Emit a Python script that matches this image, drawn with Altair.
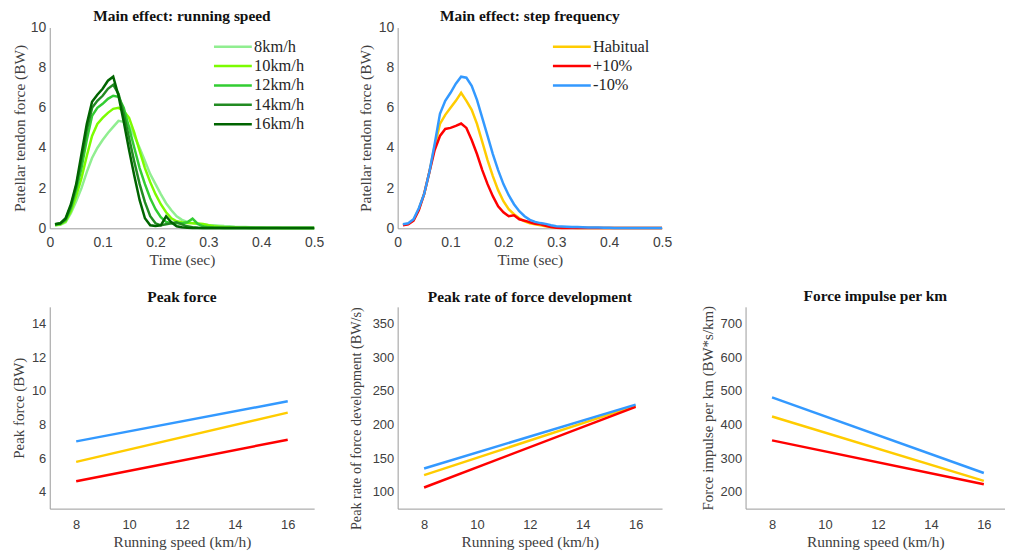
import altair as alt
import pandas as pd

# ---------------- data ----------------
time_s = [0.01, 0.02, 0.03, 0.04, 0.05, 0.06, 0.07, 0.08, 0.09, 0.10,
          0.11, 0.12, 0.13, 0.14, 0.15, 0.16, 0.17, 0.18, 0.19, 0.20,
          0.21, 0.22, 0.23, 0.24, 0.25, 0.26, 0.27, 0.28, 0.29, 0.30,
          0.31, 0.32, 0.33, 0.34, 0.35, 0.36, 0.37, 0.38, 0.39, 0.40,
          0.41, 0.42, 0.43, 0.44, 0.45, 0.46, 0.47, 0.48, 0.49, 0.50]

speed_labels = ["8km/h", "10km/h", "12km/h", "14km/h", "16km/h"]
speed_colors = ["#90EE90", "#7CFC00", "#32CD32", "#228B22", "#006400"]

force_8 = [0.15, 0.18, 0.3, 0.75, 1.35, 2.0, 2.8, 3.5, 4.0, 4.4,
           4.75, 5.05, 5.35, 5.3, 5.1, 4.6, 4.0, 3.35, 2.7, 2.2,
           1.7, 1.25, 0.9, 0.6, 0.42, 0.32, 0.26, 0.22, 0.2, 0.17,
           0.15, 0.13, 0.11, 0.1, 0.08, 0.07, 0.06, 0.05, 0.04, 0.04,
           0.03, 0.03, 0.03, 0.02, 0.02, 0.02, 0.02, 0.02, 0.02, 0.02]
force_10 = [0.15, 0.2, 0.35, 0.85, 1.6, 2.5, 3.6, 4.6, 5.2, 5.5,
            5.75, 5.95, 6.0, 5.85, 5.5, 4.75, 3.85, 3.0, 2.3, 1.7,
            1.2, 0.8, 0.5, 0.35, 0.3, 0.26, 0.25, 0.24, 0.22, 0.15,
            0.1, 0.08, 0.06, 0.05, 0.04, 0.03, 0.03, 0.02, 0.02, 0.02,
            0.02, 0.02, 0.01, 0.01, 0.01, 0.01, 0.01, 0.01, 0.01, 0.01]
force_12 = [0.18, 0.22, 0.4, 1.0, 1.9, 3.0, 4.4, 5.6, 6.0, 6.2,
            6.45, 6.6, 6.55, 6.0, 5.0, 4.0, 3.0, 2.2, 1.5, 0.95,
            0.55, 0.32, 0.25, 0.25, 0.25, 0.3, 0.48, 0.22, 0.1, 0.06,
            0.04, 0.03, 0.02, 0.02, 0.02, 0.01, 0.01, 0.01, 0.01, 0.01,
            0.01, 0.01, 0.01, 0.01, 0.01, 0.01, 0.01, 0.01, 0.01, 0.01]
force_14 = [0.2, 0.25, 0.45, 1.1, 2.1, 3.4, 4.9, 6.0, 6.35, 6.6,
            6.95, 7.15, 6.7, 5.7, 4.5, 3.3, 2.2, 1.3, 0.6, 0.25,
            0.15, 0.2, 0.25, 0.3, 0.2, 0.1, 0.05, 0.03, 0.02, 0.02,
            0.01, 0.01, 0.01, 0.01, 0.01, 0.01, 0.01, 0.01, 0.01, 0.01,
            0.01, 0.01, 0.01, 0.01, 0.01, 0.01, 0.01, 0.01, 0.01, 0.01]
force_16 = [0.2, 0.25, 0.5, 1.2, 2.2, 3.7, 5.2, 6.3, 6.65, 6.95,
            7.35, 7.55, 6.6, 5.3, 3.9, 2.6, 1.4, 0.5, 0.15, 0.12,
            0.15, 0.6, 0.3, 0.1, 0.05, 0.03, 0.02, 0.01, 0.01, 0.01,
            0.01, 0.01, 0.01, 0.01, 0.01, 0.01, 0.01, 0.01, 0.01, 0.01,
            0.01, 0.01, 0.01, 0.01, 0.01, 0.01, 0.01, 0.01, 0.01, 0.01]

freq_labels = ["Habitual", "+10%", "-10%"]
freq_colors = ["#FFCC00", "#FF0000", "#3399FF"]

force_habitual = [0.18, 0.22, 0.4, 0.95, 1.7, 2.8, 4.1, 5.2, 5.65, 6.0,
                  6.35, 6.75, 6.35, 5.9, 5.2, 4.3, 3.4, 2.6, 1.9, 1.35,
                  0.95, 0.7, 0.5, 0.35, 0.25, 0.2, 0.15, 0.1, 0.07, 0.05,
                  0.04, 0.03, 0.03, 0.02, 0.02, 0.02, 0.01, 0.01, 0.01, 0.01,
                  0.01, 0.01, 0.01, 0.01, 0.01, 0.01, 0.01, 0.01, 0.01, 0.01]
force_plus10 = [0.15, 0.2, 0.38, 0.9, 1.7, 2.8, 3.9, 4.6, 4.95, 5.0,
                5.1, 5.22, 5.0, 4.4, 3.7, 2.9, 2.2, 1.6, 1.1, 0.8,
                0.6, 0.65, 0.45, 0.38, 0.3, 0.22, 0.2, 0.12, 0.06, 0.03,
                0.02, 0.02, 0.01, 0.01, 0.01, 0.01, 0.01, 0.01, 0.01, 0.01,
                0.01, 0.01, 0.01, 0.01, 0.01, 0.01, 0.01, 0.01, 0.01, 0.01]
force_minus10 = [0.2, 0.25, 0.45, 1.0, 1.7, 2.8, 4.2, 5.7, 6.35, 6.75,
                 7.2, 7.55, 7.5, 7.1, 6.4, 5.5, 4.6, 3.7, 2.9, 2.2,
                 1.65, 1.2, 0.85, 0.6, 0.42, 0.32, 0.26, 0.22, 0.15, 0.1,
                 0.09, 0.08, 0.07, 0.06, 0.05, 0.04, 0.04, 0.04, 0.03, 0.03,
                 0.02, 0.02, 0.02, 0.02, 0.02, 0.02, 0.02, 0.02, 0.02, 0.02]

run_speed = [8, 16]
peak_force = {"Habitual": [5.78, 8.71], "+10%": [4.63, 7.10], "-10%": [7.00, 9.38]}
peak_rfd = {"Habitual": [124.8, 227.7], "+10%": [106.4, 226.2], "-10%": [134.7, 229.7]}
impulse_km = {"Habitual": [424.0, 232.5], "+10%": [353.0, 222.7], "-10%": [481.0, 256.0]}

# ---------------- tables ----------------
speed_series = [force_8, force_10, force_12, force_14, force_16]
df_speed = pd.DataFrame([
    {"time": t, "force": v, "speed": lab}
    for lab, vals in zip(speed_labels, speed_series)
    for t, v in zip(time_s, vals)
])
freq_series = [force_habitual, force_plus10, force_minus10]
df_freq = pd.DataFrame([
    {"time": t, "force": v, "cond": lab}
    for lab, vals in zip(freq_labels, freq_series)
    for t, v in zip(time_s, vals)
])


def lines_table(d):
    return pd.DataFrame([
        {"speed": s, "value": v, "cond": lab}
        for lab in freq_labels
        for s, v in zip(run_speed, d[lab])
    ])


SERIF = "Liberation Serif"
SANS = "Liberation Sans"
GREY = "#404040"
LW = 2.5


def title(text, offset):
    return alt.TitleParams(text, offset=offset, font=SERIF, fontSize=15.5,
                           fontWeight="bold", color="#111111", anchor="middle",
                           frame="group")


def legend(x, y):
    return alt.Legend(title=None, orient="none", legendX=x, legendY=y,
                      symbolType="M-5,0L5,0", symbolSize=58, symbolStrokeWidth=2.5,
                      labelFont=SERIF, labelFontSize=16.5, labelColor="#262626",
                      labelOffset=13, rowPadding=2.5, padding=0)


time_axis = dict(values=[0, 0.1, 0.2, 0.3, 0.4, 0.5], format="~g", labelFontSize=14,
                 title="Time (sec)", labelPadding=7, titleY=31, titleBaseline="middle")


def force_axis(tx):
    return alt.Axis(values=[0, 2, 4, 6, 8, 10], title="Patellar tendon force (BW)",
                    labelFontSize=14, titleX=tx, titleBaseline="middle")


top_left = alt.Chart(df_speed, title=title("Main effect: running speed", -4)).mark_line(
    strokeWidth=LW).encode(
    x=alt.X("time:Q", scale=alt.Scale(domain=[0, 0.5], nice=False), axis=alt.Axis(**time_axis)),
    y=alt.Y("force:Q", scale=alt.Scale(domain=[0, 10], nice=False), axis=force_axis(-30)),
    color=alt.Color("speed:N", scale=alt.Scale(domain=speed_labels, range=speed_colors),
                    legend=legend(176, 11)),
).properties(width=266, height=202)

top_mid = alt.Chart(df_freq, title=title("Main effect: step frequency", -4)).mark_line(
    strokeWidth=LW).encode(
    x=alt.X("time:Q", scale=alt.Scale(domain=[0, 0.5], nice=False), axis=alt.Axis(**time_axis)),
    y=alt.Y("force:Q", scale=alt.Scale(domain=[0, 10], nice=False), axis=force_axis(-32)),
    color=alt.Color("cond:N", scale=alt.Scale(domain=freq_labels, range=freq_colors),
                    legend=legend(167, 11)),
).properties(width=266, height=202)

blank = alt.Chart(pd.DataFrame({"a": [0]})).mark_point(opacity=0).encode(
    x=alt.X("a:Q", axis=None), y=alt.Y("a:Q", axis=None)
).properties(width=261, height=202)


def bottom(d, ttl, ytitle, ydom, yvals, title_x, width, xmax, title_y=None, title_size=15):
    yaxis = dict(values=yvals, title=ytitle, titleX=title_x, titleBaseline="middle",
                 titleFontSize=title_size)
    if title_y is not None:
        yaxis["titleY"] = title_y
    return alt.Chart(lines_table(d), title=title(ttl, 1)).mark_line(strokeWidth=LW).encode(
        x=alt.X("speed:Q", scale=alt.Scale(domain=[7, xmax], nice=False, zero=False),
                axis=alt.Axis(values=[8, 10, 12, 14, 16], title="Running speed (km/h)",
                              labelPadding=10, titleY=33, titleBaseline="middle")),
        y=alt.Y("value:Q", scale=alt.Scale(domain=ydom, nice=False, zero=False),
                axis=alt.Axis(**yaxis)),
        color=alt.Color("cond:N", scale=alt.Scale(domain=freq_labels, range=freq_colors),
                        legend=None),
    ).properties(width=width, height=203)


b1 = bottom(peak_force, "Peak force", "Peak force (BW)", [3, 15], [4, 6, 8, 10, 12, 14],
            -31, 266, 17)
b2 = bottom(peak_rfd, "Peak rate of force development", "Peak rate of force development (BW/s)",
            [75, 375], [100, 150, 200, 250, 300, 350], -41, 266, 17, title_y=112,
            title_size=14.3)
b3 = bottom(impulse_km, "Force impulse per km", "Force impulse per km (BW*s/km)",
            [150, 750], [200, 300, 400, 500, 600, 700], -38, 261, 16.8)

chart = alt.concat(
    top_left, top_mid, blank, b1, b2, b3,
    columns=3, spacing={"row": 79, "column": 84}, bounds="flush",
).resolve_scale(color="independent").resolve_legend(color="independent").properties(
    padding={"left": 4, "top": -1, "right": 0, "bottom": 0},
    background="white",
).configure_axis(
    grid=False, ticks=False, tickSize=0, domainColor="#9a9a9a", domainWidth=1,
    labelFont=SANS, labelFontSize=13, labelColor=GREY, labelPadding=4, labelFlush=False,
    titleFont=SERIF, titleFontSize=15.5, titleFontWeight="normal", titleColor=GREY,
).configure_view(stroke=None)

chart.save("out.html", embed_options={"renderer": "svg", "actions": False})
